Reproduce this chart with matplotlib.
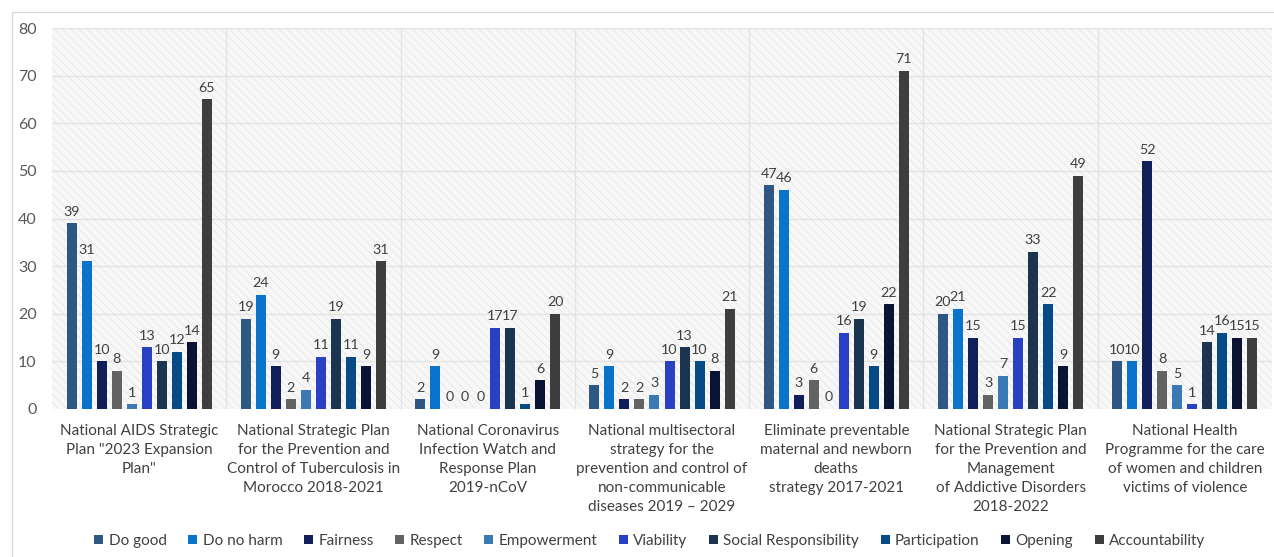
import matplotlib.pyplot as plt
import numpy as np
from matplotlib.patches import Rectangle

plt.rcParams["font.family"] = ["Lato", "DejaVu Sans"]
plt.rcParams["hatch.linewidth"] = 0.5

plans = [
    'National AIDS Strategic\nPlan "2023 Expansion\nPlan"',
    "National Strategic Plan\nfor the Prevention and\nControl of Tuberculosis in\nMorocco 2018-2021",
    "National Coronavirus\nInfection Watch and\nResponse Plan\n2019-nCoV",
    "National multisectoral\nstrategy for the\nprevention and control of\nnon-communicable\ndiseases 2019 \u2013 2029",
    "Eliminate preventable\nmaternal and newborn\ndeaths\nstrategy 2017-2021",
    "National Strategic Plan\nfor the Prevention and\nManagement\nof Addictive Disorders\n2018-2022",
    "National Health\nProgramme for the care\nof women and children\nvictims of violence",
]

principles = ["Do good", "Do no harm", "Fairness", "Respect", "Empowerment",
              "Viability", "Social Responsibility", "Participation", "Opening",
              "Accountability"]

do_good = [39, 19, 2, 5, 47, 20, 10]
do_no_harm = [31, 24, 9, 9, 46, 21, 10]
fairness = [10, 9, 0, 2, 3, 15, 52]
respect = [8, 2, 0, 2, 6, 3, 8]
empowerment = [1, 4, 0, 3, 0, 7, 5]
viability = [13, 11, 17, 10, 16, 15, 1]
social_resp = [10, 19, 17, 13, 19, 33, 14]
participation = [12, 11, 1, 10, 9, 22, 16]
opening = [14, 9, 6, 8, 22, 9, 15]
accountability = [65, 31, 20, 21, 71, 49, 15]

series = [do_good, do_no_harm, fairness, respect, empowerment, viability,
          social_resp, participation, opening, accountability]
colors = ["#2E5783", "#0A74CC", "#101E5A", "#636363", "#3B79B5",
          "#2940C4", "#1B3550", "#074B86", "#0A1333", "#3E3E3E"]

W, H = 1274, 557
fig = plt.figure(figsize=(W / 100, H / 100), dpi=100)
ax = fig.add_axes([52 / W, 1 - 409 / H, 1220 / W, 381 / H])

# outer frame
fig.add_artist(Rectangle((12 / W, -0.1), 1.2, 1 - 12 / H + 0.1, transform=fig.transFigure,
                         fill=False, edgecolor="#D9D9D9", linewidth=1))

# hatched plot background
ax.add_patch(Rectangle((0, 0), 1, 1, transform=ax.transAxes, facecolor="#F7F7F7",
                       edgecolor="#E3E3E3", hatch="\\\\\\\\", linewidth=0, zorder=0))

x = np.arange(len(plans))
step = 0.0862
width = 0.0575
n = len(series)
for i, (vals, col, name) in enumerate(zip(series, colors, principles)):
    pos = x + (i - (n - 1) / 2) * step
    ax.bar(pos, vals, width=width, color=col, label=name, zorder=3)
    for xb, v in zip(pos, vals):
        ax.annotate(str(v), (xb, v), xytext=(0, 4), textcoords="offset points",
                    ha="center", va="bottom", fontsize=10.3, color="#404040", zorder=4)

ax.set_xlim(-0.5, len(plans) - 0.5)
ax.set_ylim(0, 80)
ax.set_yticks(range(0, 81, 10))
for gx in np.arange(0.5, len(plans) - 0.5, 1):
    ax.axvline(gx, color="#E3E3E3", linewidth=1, zorder=1)
for gy in range(10, 81, 10):
    ax.axhline(gy, color="#E3E3E3", linewidth=1, zorder=1)

ax.set_xticks(x)
ax.set_xticklabels(plans, fontsize=11, color="#404040", linespacing=1.45)
ax.tick_params(axis="x", length=0, pad=11)
ax.tick_params(axis="y", length=0, pad=11, labelsize=11.5, labelcolor="#595959")
for s in ax.spines.values():
    s.set_visible(False)

fig.legend(loc="center", bbox_to_anchor=(0.51, 1 - 541 / H), ncol=10, frameon=False,
           fontsize=11, handlelength=0.6, handleheight=0.6, handletextpad=0.35,
           columnspacing=1.4, labelcolor="#404040")

fig.savefig("out.png", dpi=100, facecolor="white")
